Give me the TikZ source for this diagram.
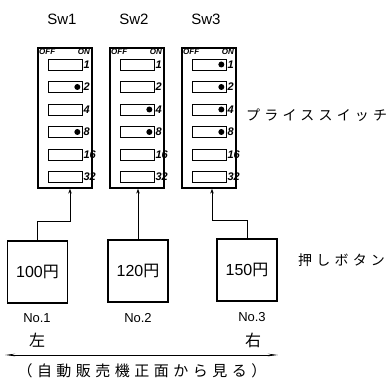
\documentclass[tikz,border=0pt]{standalone}
\usepackage{fontspec}
\setmainfont{Liberation Sans}
\newfontfamily\jp{Noto Sans CJK JP}
\newfontfamily\jpwide[LetterSpace=30]{Noto Sans CJK JP}
\usetikzlibrary{arrows.meta,positioning}

\tikzset{
  swbox/.style={draw, line width=1.3pt, minimum width=54pt, minimum height=140pt, inner sep=0pt},
  slider/.style={draw, line width=0.7pt, minimum width=34pt, minimum height=11pt, inner sep=0pt},
  swlabel/.style={font=\fontsize{15}{15}\selectfont, inner sep=0pt},
  offon/.style={font=\fontsize{8}{8}\selectfont\itshape\bfseries, inner sep=0pt},
  bitlabel/.style={font=\fontsize{11}{11}\selectfont\itshape\bfseries, inner sep=0pt, anchor=west},
  button/.style={draw, line width=1.2pt, minimum width=60pt, minimum height=62pt, inner sep=0pt,
    font=\fontsize{16}{16}\selectfont},
  tag/.style={font=\fontsize{13}{13}\selectfont, inner sep=0pt},
  side/.style={font=\fontsize{14}{14}\selectfont, inner sep=0pt},
  conn/.style={line width=0.8pt, -{Stealth[length=5pt,width=3.5pt]}},
}

\begin{document}
\begin{tikzpicture}[x=1pt, y=1pt]
  \useasboundingbox (0,0) rectangle (392,383);

  % price switches: one DIP switch per button, bits 1..32
  \foreach \sw/\xc/\price in {1/65/10, 2/137/12, 3/209/15} {
    \node[swbox] (sw\sw) at (\xc,265) {};
    \node[swlabel, anchor=base] (swl\sw) at (\xc-3,358) {Sw\sw};
    \node[offon, anchor=north west] (off\sw) at (\xc-26,334) {OFF};
    \node[offon, anchor=north east] (on\sw) at (\xc+25,334) {ON};
    \foreach \v [count=\i] in {1,2,4,8,16,32} {
      \node[slider] (sw\sw-\i) at (\xc,{341-22.5*\i}) {};
      \node[bitlabel] at ([xshift=1pt]sw\sw-\i.east) {\v};
      % dot where the bit is set
      \pgfmathtruncatemacro\bit{mod(floor(\price/\v),2)}
      \ifnum\bit=1
        \fill ([xshift=-5pt]sw\sw-\i.east) circle (3pt);
      \fi
    }
  }
  \node[side, anchor=west] (pricesw) at (246,268) {\jpwide プライススイッチ};

  % push buttons
  \node[button] (b1) at (37.5,111) {100{\jp 円}};
  \node[button] (b2) at (138,112) {120{\jp 円}};
  \node[button] (b3) at (247,113) {150{\jp 円}};
  \node[side, anchor=west] (push) at (298,123) {\jpwide 押しボタン};

  \node[tag] (n1) at (37,65) {No.1};
  \node[tag] (n2) at (138,65) {No.2};
  \node[tag] (n3) at (252,66) {No.3};
  \node[side, font=\fontsize{16}{16}\selectfont] (left) at (37,43) {\jp 左};
  \node[side, font=\fontsize{16}{16}\selectfont] (right) at (253,43) {\jp 右};

  % wiring, button -> switch
  \draw[conn] (b1.north) -- ++(0,19) -| ([xshift=5pt]sw1.south);
  \draw[conn] (b2.north) -- (b2.north |- sw2.south);
  \draw[conn] (b3.north) -- ++(0,18) -| ([xshift=3pt]sw3.south);

  % viewing direction
  \coordinate (vl) at (5,28);
  \coordinate (vr) at (278,28);
  \draw[line width=0.8pt, {Stealth[length=10pt,width=2.5pt]}-{Stealth[length=10pt,width=2.5pt]}] (vl) -- (vr);
  \node[side, font=\fontsize{15}{15}\selectfont] (view) at (142,12) {\jpwide （自動販売機正面から見る）};
\end{tikzpicture}
\end{document}
